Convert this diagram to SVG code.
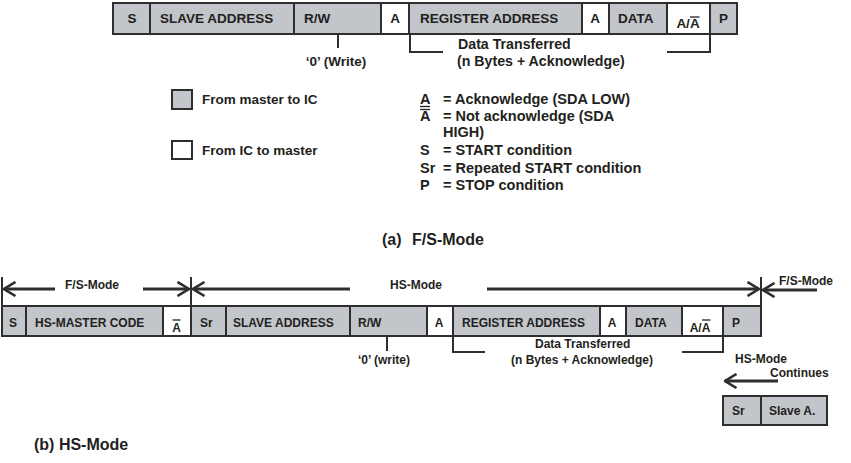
<svg xmlns="http://www.w3.org/2000/svg" width="851" height="463" viewBox="0 0 851 463">
<style>
.g{fill:#c2c5ca;stroke:#2e2e2e;stroke-width:2}
.w{fill:#ffffff;stroke:#2e2e2e;stroke-width:2}
text{font-family:"Liberation Sans",Arial,sans-serif;font-weight:bold;fill:#231f20}
.t1{font-size:13.5px}
.t3{font-size:14.2px}
.t4{font-size:14.5px}
.t2{font-size:12px}
.c{text-anchor:middle}
.ln{stroke:#2e2e2e;stroke-width:2;fill:none}
.bar{stroke:#231f20;stroke-width:1.3}
.ar{stroke:#2e2e2e;stroke-width:3;fill:none}
.cap{font-size:16px}
</style>
<defs>
<marker id="ah" viewBox="0 0 14 16" refX="12.5" refY="8" markerWidth="14" markerHeight="16" markerUnits="userSpaceOnUse" orient="auto">
<path d="M1,1 L12.5,8 L1,15" fill="none" stroke="#2e2e2e" stroke-width="2.6"/>
</marker>
</defs>

<!-- (a) F/S-Mode row -->
<g id="a-s"><rect class="g" x="113" y="3" width="37" height="31"/><text class="t1 c" x="132" y="23">S</text></g>
<g id="a-slave"><rect class="g" x="150" y="3" width="144" height="31"/><text class="t1" x="160" y="23">SLAVE ADDRESS</text></g>
<g id="a-rw"><rect class="g" x="294" y="3" width="87" height="31"/><text class="t1" x="304" y="23">R/W</text></g>
<g id="a-ack1"><rect class="w" x="381" y="3" width="28" height="31"/><text class="t1 c" x="395" y="23">A</text></g>
<g id="a-reg"><rect class="g" x="409" y="3" width="173" height="31"/><text class="t1" x="420" y="23">REGISTER ADDRESS</text></g>
<g id="a-ack2"><rect class="w" x="582" y="3" width="27" height="31"/><text class="t1 c" x="595" y="23">A</text></g>
<g id="a-data"><rect class="g" x="609" y="3" width="58" height="31"/><text class="t1" x="618" y="23">DATA</text></g>
<g id="a-nack"><rect class="w" x="667" y="3" width="43" height="31"/><text class="t1 c" x="688" y="28">A/A</text><line class="bar" x1="690" y1="17" x2="699.5" y2="17"/></g>
<g id="a-p"><rect class="g" x="710" y="3" width="27" height="31"/><text class="t1" x="719" y="23">P</text></g>

<g id="a-connectors">
<line class="ln" x1="338" y1="35" x2="338" y2="48"/>
<polyline class="ln" points="410,35 410,52 443,52"/>
<polyline class="ln" points="710,35 710,52 667,52"/>
</g>
<g id="a-labels">
<text class="t1 c" x="336" y="66">‘0’ (Write)</text>
<text class="t3" x="458" y="49">Data Transferred</text>
<text class="t3" x="457" y="66">(n Bytes + Acknowledge)</text>
</g>

<!-- Legend -->
<g id="legend-master"><rect class="g" x="172" y="90" width="20" height="19"/><text class="t1" x="202" y="104">From master to IC</text></g>
<g id="legend-ic"><rect class="w" x="172" y="141" width="20" height="18"/><text class="t1" x="202" y="155">From IC to master</text></g>
<g id="legend-defs">
<text class="t4" x="420" y="104">A</text><line class="bar" x1="420" y1="106.5" x2="430" y2="106.5"/>
<text class="t4" x="443" y="104">= Acknowledge (SDA LOW)</text>
<text class="t4" x="420" y="121">A</text><line class="bar" x1="420" y1="109.5" x2="430" y2="109.5"/>
<text class="t4" x="443" y="120.5">= Not acknowledge (SDA</text>
<text class="t4" x="443" y="137">HIGH)</text>
<text class="t4" x="420" y="155">S</text>
<text class="t4" x="443" y="155">= START condition</text>
<text class="t4" x="420" y="173">Sr</text>
<text class="t4" x="443" y="173">= Repeated START condition</text>
<text class="t4" x="420" y="190">P</text>
<text class="t4" x="443" y="190">= STOP condition</text>
</g>

<text class="cap" x="382" y="245">(a)</text>
<text class="cap" x="412" y="245">F/S-Mode</text>

<!-- (b) HS-Mode row -->
<g id="b-s"><rect class="g" x="2" y="306" width="24" height="30"/><text class="t2 c" x="13" y="327">S</text></g>
<g id="b-hsm"><rect class="g" x="26" y="306" width="137" height="30"/><text class="t2" x="35" y="327">HS-MASTER CODE</text></g>
<g id="b-nack0"><rect class="w" x="163" y="306" width="28" height="30"/><text class="t2 c" x="176.5" y="332">A</text><line class="bar" x1="172.5" y1="320" x2="180.5" y2="320"/></g>
<g id="b-sr"><rect class="g" x="191" y="306" width="35" height="30"/><text class="t2" x="200" y="327">Sr</text></g>
<g id="b-slave"><rect class="g" x="226" y="306" width="124" height="30"/><text class="t2" x="233" y="327">SLAVE ADDRESS</text></g>
<g id="b-rw"><rect class="g" x="350" y="306" width="77" height="30"/><text class="t2" x="358" y="327">R/W</text></g>
<g id="b-ack1"><rect class="w" x="427" y="306" width="26" height="30"/><text class="t2 c" x="439" y="327">A</text></g>
<g id="b-reg"><rect class="g" x="453" y="306" width="147" height="30"/><text class="t2" x="462" y="327">REGISTER ADDRESS</text></g>
<g id="b-ack2"><rect class="w" x="600" y="306" width="26" height="30"/><text class="t2 c" x="612" y="327">A</text></g>
<g id="b-data"><rect class="g" x="626" y="306" width="56" height="30"/><text class="t2" x="635" y="327">DATA</text></g>
<g id="b-nack"><rect class="w" x="682" y="306" width="41" height="30"/><text class="t2 c" x="700" y="332">A/A</text><line class="bar" x1="702" y1="320" x2="710.5" y2="320"/></g>
<g id="b-p"><rect class="g" x="723" y="306" width="38" height="30"/><text class="t2" x="732" y="327">P</text></g>

<g id="b-next"><rect class="g" x="723" y="396" width="38" height="29"/><rect class="g" x="761" y="396" width="66" height="29"/><text class="t2" x="732" y="415">Sr</text><text class="t2" x="769" y="415">Slave A.</text></g>

<g id="b-connectors">
<line class="ln" x1="2" y1="277" x2="2" y2="306"/>
<line class="ln" x1="191" y1="277" x2="191" y2="306"/>
<line class="ln" x1="761" y1="277" x2="761" y2="306"/>
<line class="ar" x1="55" y1="289" x2="4" y2="289" marker-end="url(#ah)"/>
<line class="ar" x1="143" y1="289" x2="189" y2="289" marker-end="url(#ah)"/>
<line class="ar" x1="350" y1="289" x2="193" y2="289" marker-end="url(#ah)"/>
<line class="ar" x1="487" y1="289" x2="759" y2="289" marker-end="url(#ah)"/>
<line class="ar" x1="817" y1="290" x2="763" y2="290" marker-end="url(#ah)"/>
<line class="ar" x1="778" y1="381" x2="725" y2="381" marker-end="url(#ah)"/>
<line class="ln" x1="387" y1="337" x2="387" y2="351"/>
<polyline class="ln" points="453,337 453,352 485,352"/>
<polyline class="ln" points="723,337 723,352 682,352"/>
</g>
<g id="b-labels">
<text class="t2" x="65" y="289">F/S-Mode</text>
<text class="t2" x="390" y="289">HS-Mode</text>
<text class="t2" x="779" y="285">F/S-Mode</text>
<text class="t2 c" x="384" y="364">‘0’ (write)</text>
<text class="t2" x="535" y="348">Data Transferred</text>
<text class="t2" x="511" y="364">(n Bytes + Acknowledge)</text>
<text class="t2" x="735" y="363">HS-Mode</text>
<text class="t2" x="770" y="377">Continues</text>
</g>
<text class="cap" x="34" y="450">(b) HS-Mode</text>
</svg>
